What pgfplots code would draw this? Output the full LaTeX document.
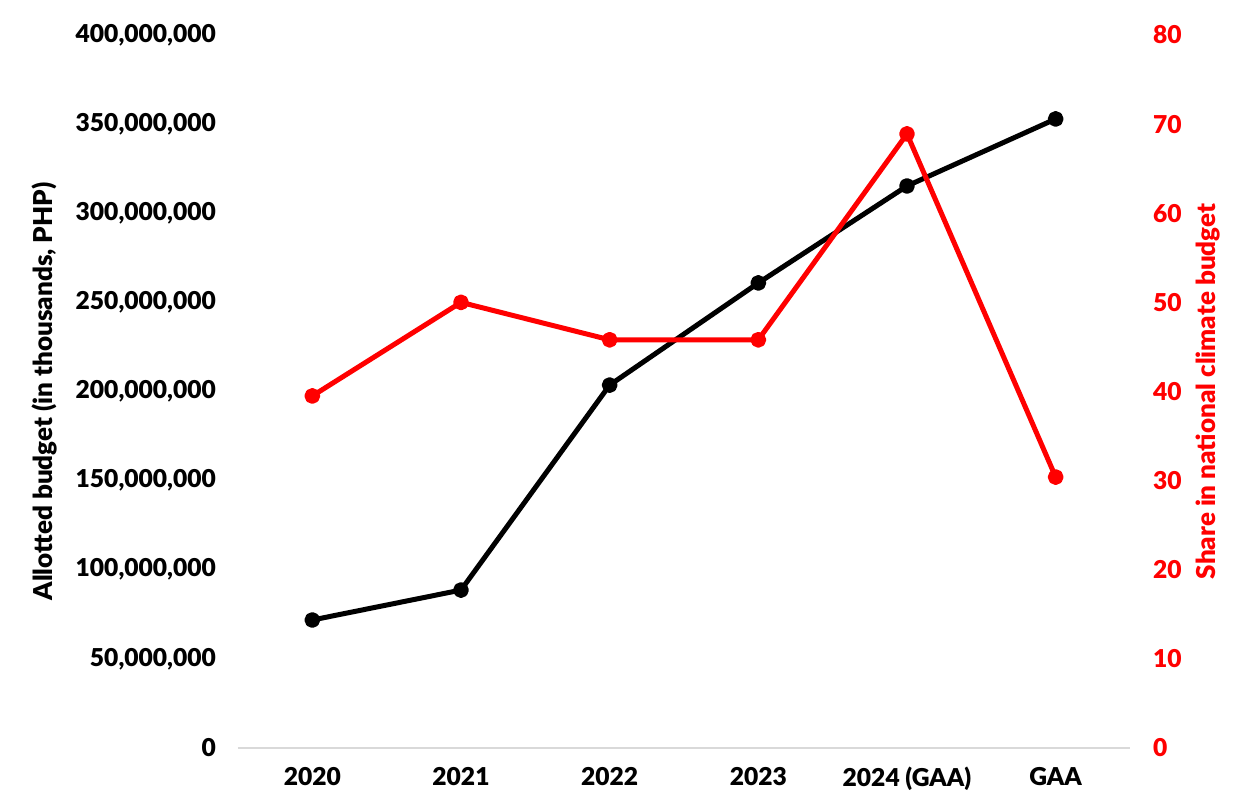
\documentclass[border=0pt]{standalone}
\usepackage{fontspec}
\setmainfont{Lato}[BoldFont={* Black}]
\usepackage{pgfplots}
\usepackage{pgfplotstable}
\pgfplotsset{compat=1.18}

\definecolor{shareRed}{RGB}{255,0,0}
\definecolor{baseGray}{RGB}{217,217,217}

% Allotted budget (thousand PHP) and share of the national climate budget (%)
\pgfplotstableread{
x budget share
0 71800000 39.5
1 88600000 50.0
2 203600000 45.8
3 260900000 45.8
4 315300000 68.9
5 352900000 30.4
}\budgetdata

\begin{document}
\begin{tikzpicture}[font=\fontsize{12.3}{14}\selectfont\bfseries]
\useasboundingbox (-119pt,-27pt) rectangle (503pt,374pt);
\begin{axis}[
  scale only axis,
  width=446pt, height=356.5pt,
  xmin=-0.5, xmax=5.5,
  ymin=0, ymax=400000000,
  xtick={0,1,2,3,4,5},
  xticklabels={2020,2021,2022,2023,2024 (GAA),GAA},
  ytick={0,50000000,100000000,150000000,200000000,250000000,300000000,350000000,400000000},
  scaled y ticks=false,
  /pgf/number format/fixed,
  /pgf/number format/precision=0,
  /pgf/number format/1000 sep={,},
  /pgf/number format/assume math mode=true,
  axis x line*=bottom, axis y line*=left,
  x axis line style={draw=baseGray, line width=1pt, -},
  y axis line style={draw=none},
  major tick length=0pt,
  tick label style={font=\fontsize{12.3}{14}\selectfont\bfseries},
  xticklabel style={yshift=-6pt},
  yticklabel style={xshift=-7.5pt},
  ylabel={Allotted budget (in thousands, PHP)},
  ylabel style={at={(axis description cs:-0.2164,0.5)}, anchor=center,
    font=\fontsize{13}{15}\selectfont\bfseries},
  clip=false,
]
\addplot[black, line width=2.5pt, mark=*, mark size=2.7pt, line join=round]
  table[x=x, y=budget] {\budgetdata};
\end{axis}
\begin{axis}[
  scale only axis,
  width=446pt, height=356.5pt,
  xmin=-0.5, xmax=5.5,
  ymin=0, ymax=80,
  ytick={0,10,...,80},
  axis x line=none, axis y line*=right,
  y axis line style={draw=none},
  major tick length=0pt,
  /pgf/number format/assume math mode=true,
  tick label style={font=\fontsize{12.3}{14}\selectfont\bfseries, text=shareRed},
  yticklabel style={anchor=west, xshift=8pt},
  ylabel={Share in national climate budget},
  ylabel style={at={(axis description cs:1.0874,0.5)}, anchor=center, text=shareRed,
    font=\fontsize{13}{15}\selectfont\bfseries},
  clip=false,
]
\addplot[shareRed, line width=2.5pt, mark=*, mark size=2.7pt, line join=round]
  table[x=x, y=share] {\budgetdata};
\end{axis}
\end{tikzpicture}
\end{document}
